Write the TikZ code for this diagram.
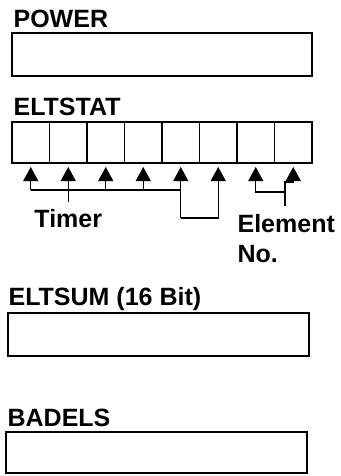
\documentclass[tikz,border=0pt]{standalone}
\usepackage{fontspec}
\setmainfont{Liberation Sans}
\usetikzlibrary{arrows.meta,calc,positioning}

\tikzset{
  regbox/.style={draw,rectangle,inner sep=0pt,outer sep=0pt,anchor=north west},
  bitcell/.style={regbox,minimum width=37.5pt,minimum height=41pt},
  regname/.style={anchor=base west,inner sep=0pt,font=\fontsize{25}{29}\selectfont\bfseries},
  feed/.style={-{Triangle[width=15pt,length=14pt]},shorten >=4pt},
}

\begin{document}
\begin{tikzpicture}[x=1pt,y=-1pt,line width=1.2pt]
    \useasboundingbox (0,0) rectangle (340,476);

    % power register
    \node at (12,33) [regbox,minimum width=300pt,minimum height=43pt] (power) {};
    \node at ([xshift=1pt,yshift=5pt] power.north west) [regname] (powername) {POWER};

    % status register, eight cells
    \node at (12,122) [bitcell] (c1) {};
    \node at (c1.north east) [bitcell] (c2) {};
    \node at (c2.north east) [bitcell] (c3) {};
    \node at (c3.north east) [bitcell] (c4) {};
    \node at (c4.north east) [bitcell] (c5) {};
    \node at (c5.north east) [bitcell] (c6) {};
    \node at (c6.north east) [bitcell] (c7) {};
    \node at (c7.north east) [bitcell] (c8) {};
    \node at ([xshift=1pt,yshift=7pt] c1.north west) [regname] (eltstat) {ELTSTAT};

    % timer bits
    \coordinate (tbus) at (0,190);
    \coordinate (tloop) at (0,218);
    \draw (c1.south |- tbus) -- (c5.south |- tbus);
    \draw[feed] (c1.south |- tbus) -- (c1.south);
    \draw[feed] (c3.south |- tbus) -- (c3.south);
    \draw[feed] (c4.south |- tbus) -- (c4.south);
    \draw[feed] (c5.south |- tloop) -- (c5.south);
    \draw[feed] (c5.south |- tloop) -- (c6.south |- tloop) -- (c6.south);
    \node at (c2.south |- 0,227) [regname,anchor=base] (timer) {Timer};
    \draw[feed,shorten <=6pt] (timer.north) -- (c2.south);

    % element number bits
    \coordinate (ejoin) at (285,192);
    \coordinate (ebend) at (285,182);
    \draw[feed] (ejoin) -- (c7.south |- ejoin) -- (c7.south);
    \draw[feed] (ejoin) -- (ebend) -- (c8.south |- ebend) -- (c8.south);
    \node at (237,232) [regname] (element) {Element};
    \node at ([yshift=-30pt] element.base west) [regname] (elementno) {No.};
    \draw[shorten >=7pt] (ejoin) -- (ejoin |- element.north);

    % sum register
    \node at (8,313) [regbox,minimum width=301pt,minimum height=43pt] (eltsum) {};
    \node at ([yshift=8pt] eltsum.north west) [regname] (eltsumname) {ELTSUM (16 Bit)};

    % bad elements
    \node at (6,432) [regbox,minimum width=301pt,minimum height=41pt] (badels) {};
    \node at ([xshift=1pt,yshift=6pt] badels.north west) [regname] (badelsname) {BADELS};
\end{tikzpicture}
\end{document}
